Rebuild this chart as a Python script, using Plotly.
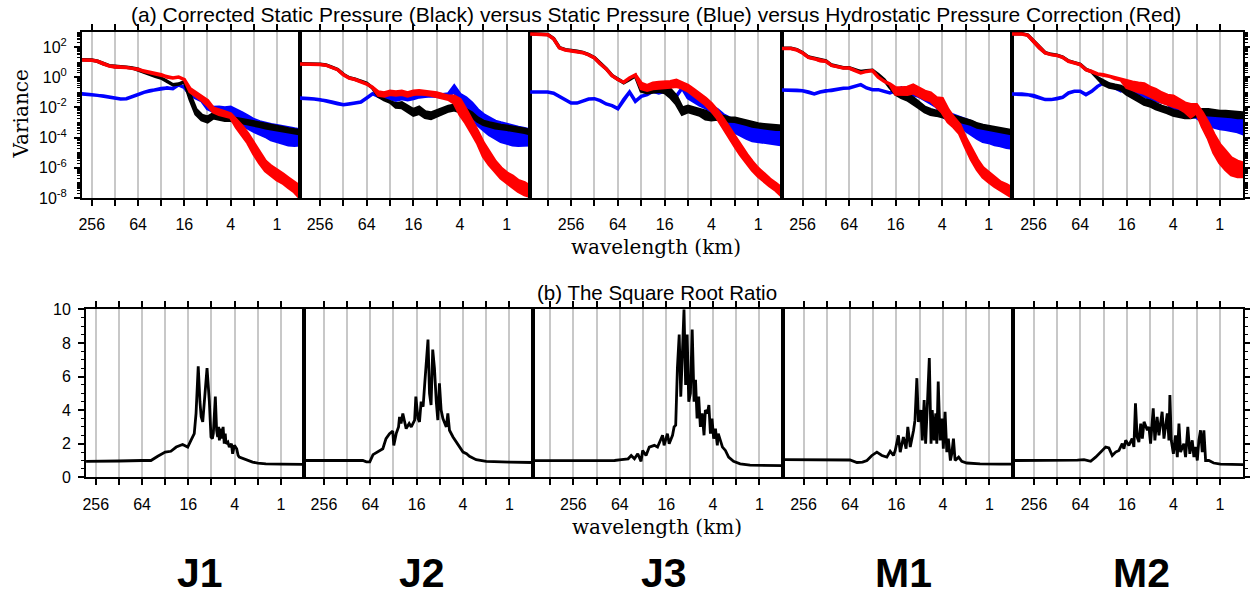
import numpy as np
import plotly.graph_objects as go

# ---------------- data ----------------
# wavelength samples (km) for the variance spectra
WL_J1 = [362, 304, 256, 215, 181, 152, 128, 108, 90.5, 76.1, 64, 53.8, 45.3, 38.1, 32, 26.9, 22.6, 19.0, 16,
         13.5, 11.3, 9.51, 8, 6.73, 5.66, 4.76, 4, 3.36, 2.83, 2.38, 2, 1.68, 1.41, 1.19, 1, 0.84, 0.71, 0.59, 0.5]
WL_J2 = [512, 430, 362, 304, 256, 215, 181, 152, 128, 108, 90.5, 76.1, 64, 53.8, 45.3, 38.1, 32, 26.9, 22.6, 19.0, 16,
         13.5, 11.3, 9.51, 8, 6.73, 5.66, 4.76, 4, 3.36, 2.83, 2.38, 2, 1.68, 1.41, 1.19, 1, 0.84, 0.71, 0.59, 0.5]
WL_J3 = [861, 724, 609, 512, 430, 362, 304, 256, 215, 181, 152, 128, 108, 90.5, 76.1, 64, 53.8, 45.3, 38.1, 32, 26.9,
         22.6, 19.0, 16, 13.5, 11.3, 9.51, 8, 6.73, 5.66, 4.76, 4, 3.36, 2.83, 2.38, 2, 1.68, 1.41, 1.19, 1, 0.84,
         0.71, 0.59, 0.5]
WL_M1 = WL_J2
WL_M2 = WL_J2

# log10(variance), upper edge of each curve; *_BAND = vertical spread (decades) of the noisy tail
J1_BLACK = [1.17, 1.17, 1.14, 1.06, 0.89, 0.77, 0.70, 0.70, 0.66, 0.62, 0.53, 0.35, 0.22, 0.07, -0.05, -0.27, -0.49,
            -0.45, -0.30, -1.15, -2.14, -2.52, -2.65, -2.43, -2.52, -2.60, -2.65, -2.74, -2.81, -2.88, -2.96, -3.05,
            -3.14, -3.20, -3.27, -3.34, -3.43, -3.48, -3.54]
J1_BLACK_BAND = [0.3, 0.3, 0.3, 0.3, 0.25, 0.25, 0.25, 0.2, 0.2, 0.2, 0.2, 0.2, 0.2, 0.2, 0.2, 0.2, 0.2, 0.2, 0.2, 0.2]
J1_BLUE = [-1.09, -1.11, -1.15, -1.20, -1.24, -1.30, -1.37, -1.44, -1.42, -1.26, -1.15, -1.00, -0.89, -0.82, -0.75,
           -0.71, -0.75, -0.50, -0.67, -1.15, -1.37, -1.55, -1.87, -2.00, -1.98, -2.04, -1.99, -2.15, -2.37, -2.59,
           -2.81, -2.96, -3.07, -3.14, -3.21, -3.30, -3.36, -3.43, -3.49]
J1_BLUE_BAND = [0.2, 0.25, 0.3, 0.35, 0.53, 0.66, 0.77, 0.77, 0.77, 0.80, 0.84, 0.99, 1.04, 1.06, 1.11, 1.08, 0.98]
J1_RED = [1.14, 1.14, 1.12, 1.06, 0.89, 0.75, 0.68, 0.68, 0.64, 0.59, 0.53, 0.40, 0.31, 0.26, 0.17, 0.02, -0.05, 0.02,
          -0.15, -0.75, -1.04, -1.26, -1.55, -2.04, -2.20, -2.30, -2.43, -2.81, -3.25, -3.76, -4.36, -5.02, -5.57,
          -5.90, -6.19, -6.41, -6.68, -6.94, -7.23]
J1_RED_BAND = [0.2, 0.2, 0.25, 0.3, 0.25, 0.25, 0.25, 0.22, 0.51, 0.55, 0.60, 0.72, 0.66, 0.62, 0.60, 0.60, 0.59, 0.61,
               0.66, 0.77]

J2_BLACK = [0.90, 0.90, 0.90, 0.88, 0.86, 0.82, 0.68, 0.52, 0.19, -0.03, -0.13, -0.25, -0.40, -0.71, -1.26, -1.48,
            -1.64, -1.77, -1.70, -1.93, -2.15, -1.99, -2.30, -2.37, -2.21, -2.08, -1.93, -1.86, -2.04, -2.15, -2.37,
            -2.70, -2.92, -3.03, -3.14, -3.19, -3.25, -3.30, -3.36, -3.45, -3.54]
J2_BLACK_BAND = [0.2, 0.3, 0.35, 0.35, 0.4, 0.35, 0.35, 0.3, 0.3, 0.3, 0.3, 0.25, 0.25, 0.2, 0.2, 0.2, 0.2, 0.2, 0.2,
                 0.2, 0.2, 0.2, 0.2, 0.2]
J2_BLUE = [-1.37, -1.37, -1.40, -1.44, -1.48, -1.55, -1.64, -1.75, -1.82, -1.77, -1.71, -1.64, -1.37, -1.09, -1.26,
           -1.37, -1.26, -1.37, -1.26, -1.33, -1.26, -1.15, -1.11, -1.07, -1.11, -1.15, -1.11, -0.60, -1.15, -1.37,
           -1.71, -2.15, -2.48, -2.70, -2.92, -3.03, -3.14, -3.25, -3.32, -3.41, -3.49]
J2_BLUE_BAND = [0.15, 0.15, 0.15, 0.15, 0.15, 0.15, 0.15, 0.15, 0.15, 0.15, 0.15, 0.3, 0.78, 0.78, 0.88, 0.99, 0.99,
                1.10, 1.10, 1.22, 1.22, 1.22, 1.19, 1.10, 0.98]
J2_RED = [0.88, 0.88, 0.88, 0.86, 0.84, 0.80, 0.66, 0.50, 0.17, -0.05, -0.15, -0.27, -0.45, -0.67, -0.98, -1.04,
          -0.93, -0.98, -0.93, -1.04, -0.93, -0.89, -0.93, -0.98, -1.04, -1.15, -1.26, -1.26, -1.48, -2.15, -2.81,
          -3.58, -4.36, -5.02, -5.57, -6.01, -6.34, -6.56, -6.85, -7.00, -7.23]
J2_RED_BAND = [0.2, 0.2, 0.2, 0.2, 0.2, 0.2, 0.2, 0.2, 0.2, 0.2, 0.2, 0.2, 0.2, 0.44, 1.0, 0.88, 0.88, 0.78, 0.88,
               0.77, 0.66, 0.67, 0.66, 0.73, 0.71, 0.78, 0.66]

J3_BLACK = [2.89, 2.89, 2.87, 2.84, 2.57, 1.97, 1.83, 1.78, 1.72, 1.65, 1.50, 1.30, 0.92, 0.57, 0.12, -0.13, -0.36,
            -0.15, 0.10, -0.71, -0.82, -0.71, -0.67, -0.71, -0.82, -1.26, -2.04, -1.93, -2.04, -2.15, -2.26, -2.52,
            -2.52, -2.59, -2.70, -2.72, -2.81, -2.92, -3.03, -3.10, -3.14, -3.19, -3.25, -3.25]
J3_BLACK_BAND = [0.2, 0.2, 0.25, 0.25, 0.3, 0.5, 0.5, 0.4, 0.35, 0.35, 0.35, 0.5, 0.3, 0.25, 0.25, 0.2, 0.2, 0.2, 0.2,
                 0.2, 0.2, 0.2, 0.2, 0.2, 0.2]
J3_BLUE = [-0.98, -0.98, -0.98, -0.98, -1.06, -1.26, -1.48, -1.71, -1.71, -1.55, -1.44, -1.42, -1.55, -1.77, -1.88,
           -2.08, -1.48, -0.98, -1.59, -1.26, -1.15, -0.93, -1.04, -0.93, -1.15, -1.26, -0.71, -1.15, -1.37, -1.59,
           -1.71, -1.93, -2.15, -2.48, -2.70, -2.88, -2.96, -3.03, -3.14, -3.19, -3.25, -3.32, -3.36, -3.41]
J3_BLUE_BAND = [0.2, 0.2, 0.25, 0.3, 0.35, 0.4, 0.5, 0.6, 0.75, 0.9, 1.0, 1.05, 1.05, 1.05, 1.05, 1.05, 1.05]
J3_RED = [2.87, 2.87, 2.85, 2.82, 2.55, 1.95, 1.81, 1.76, 1.70, 1.63, 1.48, 1.28, 0.90, 0.55, 0.10, -0.15, -0.33,
          -0.05, 0.15, -0.40, -0.55, -0.40, -0.35, -0.33, -0.30, -0.20, -0.35, -0.55, -0.82, -1.10, -1.40, -1.75,
          -2.20, -2.75, -3.35, -3.95, -4.55, -5.10, -5.60, -6.05, -6.40, -6.75, -7.05, -7.35]
J3_RED_BAND = [0.35, 0.3, 0.35, 0.35, 0.35, 0.35, 0.4, 0.35, 0.35, 0.4, 0.4, 0.4, 0.45, 0.5, 0.55, 0.55, 0.6, 0.6,
               0.6, 0.55, 0.5, 0.5, 0.45, 0.45, 0.5]

M1_BLACK = [1.92, 1.92, 1.92, 1.83, 1.63, 1.34, 1.25, 1.12, 1.08, 0.81, 0.70, 0.63, 0.63, 0.48, 0.38, 0.44, 0.46,
            0.17, -0.16, -0.67, -0.82, -1.04, -1.15, -1.37, -1.71, -1.99, -2.15, -2.26, -2.43, -2.52, -2.65, -2.74,
            -2.81, -2.92, -3.10, -3.19, -3.25, -3.32, -3.41, -3.47, -3.54]
M1_BLACK_BAND = [0.3, 0.3, 0.35, 0.35, 0.3, 0.3, 0.3, 0.25, 0.2, 0.2, 0.2, 0.2, 0.2, 0.2, 0.2, 0.2, 0.2, 0.2, 0.2,
                 0.2, 0.2]
M1_BLUE = [-0.84, -0.84, -0.84, -0.86, -0.89, -0.98, -1.11, -0.98, -0.89, -0.87, -0.78, -0.73, -0.71, -0.60, -0.49,
           -0.71, -0.82, -0.82, -0.93, -1.04, -0.89, -0.71, -0.93, -1.15, -1.26, -1.48, -1.71, -1.93, -2.15, -2.37,
           -2.52, -2.65, -2.81, -2.96, -3.14, -3.25, -3.32, -3.41, -3.47, -3.54, -3.58]
M1_BLUE_BAND = [0.4, 0.45, 0.5, 0.6, 0.7, 0.8, 0.9, 1.0, 1.0, 1.05, 1.05, 1.1, 1.1]
M1_RED = [1.90, 1.90, 1.90, 1.81, 1.61, 1.32, 1.23, 1.10, 1.06, 0.79, 0.68, 0.61, 0.61, 0.44, 0.29, 0.39, 0.44, 0.00,
          -0.27, -0.45, -0.71, -0.71, -0.67, -0.53, -0.71, -0.93, -1.04, -1.37, -1.42, -2.15, -2.70, -3.14, -4.02,
          -4.80, -5.46, -6.01, -6.34, -6.68, -6.94, -7.12, -7.34]
M1_RED_BAND = [0.4, 0.4, 0.45, 0.5, 0.5, 0.5, 0.5, 0.55, 0.9, 0.8, 0.6, 0.6, 0.6, 0.65, 0.65, 0.6, 0.6, 0.55, 0.55,
               0.6, 0.6]

M2_BLACK = [2.89, 2.89, 2.89, 2.80, 2.40, 1.96, 1.63, 1.52, 1.47, 1.34, 1.08, 0.97, 0.86, 0.52, 0.37, -0.04, -0.27,
            -0.45, -0.53, -0.60, -0.82, -1.04, -1.26, -1.48, -1.59, -1.77, -1.93, -2.04, -2.21, -2.30, -2.37, -2.37,
            -2.26, -2.15, -2.15, -2.21, -2.26, -2.26, -2.30, -2.37, -2.37]
M2_BLACK_BAND = [0.2, 0.2, 0.2, 0.2, 0.3, 0.3, 0.3, 0.3, 0.3, 0.3, 0.3, 0.3, 0.3, 0.3, 0.3, 0.3, 0.3, 0.3, 0.3, 0.3,
                 0.3, 0.3, 0.3, 0.3, 0.3]
M2_BLUE = [-1.11, -1.11, -1.11, -1.15, -1.20, -1.37, -1.48, -1.48, -1.42, -1.33, -1.04, -0.93, -0.93, -1.15, -0.93,
           -0.60, -0.38, -0.49, -0.71, -0.89, -0.71, -0.82, -1.04, -1.26, -1.42, -1.55, -1.64, -1.71, -1.86, -1.93,
           -1.99, -2.08, -2.15, -2.43, -2.59, -2.59, -2.65, -2.65, -2.70, -2.70, -2.74]
M2_BLUE_BAND = [0.3, 0.35, 0.4, 0.5, 0.5, 0.5, 0.6, 0.7, 0.75, 0.8, 0.8, 0.9, 1.0]
M2_RED = [2.87, 2.87, 2.87, 2.78, 2.38, 1.94, 1.61, 1.50, 1.45, 1.32, 1.06, 0.95, 0.84, 0.50, 0.39, 0.22, 0.17, 0.07,
          -0.09, -0.16, -0.27, -0.33, -0.40, -0.45, -0.67, -0.82, -1.04, -1.20, -1.26, -1.48, -1.71, -1.82, -1.82,
          -2.37, -3.03, -3.80, -4.47, -4.91, -5.35, -5.57, -5.68]
M2_RED_BAND = [0.4, 0.45, 0.55, 0.6, 0.55, 0.6, 0.6, 0.6, 0.65, 0.55, 0.55, 0.8, 0.5, 0.9, 1.0, 1.2, 1.2, 1.2, 1.1,
               1.0, 0.9]

# square-root ratio (panel b)
R_J1_WL = [342, 256, 128, 64, 49, 40, 32, 27, 23, 19, 16.3, 14.8, 13.4, 12.7, 11.9, 11.3, 10.9, 10.4, 9.7, 9.14, 8.53,
           8.12, 7.8, 7.57, 7.13, 6.86, 6.64, 6.45, 6.32, 6.1, 5.85, 5.65, 5.46, 5.3, 5.18, 4.9, 4.69, 4.4, 4.25,
           4.03, 3.76, 3.6, 3.48, 3.0, 2.34, 2.0, 1.57, 1.0, 0.5]
R_J1 = [0.95, 0.95, 0.97, 1.0, 1.0, 1.25, 1.5, 1.55, 1.8, 1.95, 1.8, 2.2, 2.6, 3.8, 6.6, 4.5, 3.6, 3.3, 5.0, 6.5, 4.5,
        2.4, 2.3, 2.6, 4.8, 2.8, 2.4, 3.0, 2.2, 2.9, 2.3, 3.0, 2.0, 2.6, 2.0, 2.1, 1.8, 2.0, 1.4, 1.9, 1.7, 1.3, 1.2,
        1.1, 0.9, 0.85, 0.8, 0.78, 0.77]
R_J2_WL = [471, 256, 128, 90, 80, 72, 65, 59, 48.6, 44, 40, 36, 32.7, 31.7, 29.5, 27.5, 26.7, 25.5, 24.2, 21.9, 20,
           18.8, 17, 16.4, 15.4, 14.7, 14.0, 13.2, 12.6, 11.4, 10.9, 10.4, 9.9, 9.4, 8.9, 8.5, 8.1, 7.7, 7.3, 7.0,
           6.6, 6.3, 6.0, 5.4, 4.9, 4.5, 4.0, 3.6, 3.3, 2.7, 2.0, 1.0, 0.5]
R_J2 = [1.0, 1.0, 1.02, 1.02, 1.0, 0.92, 0.92, 1.35, 1.6, 1.7, 2.3, 2.6, 2.75, 1.9, 2.6, 3.0, 3.6, 3.2, 3.8, 2.9, 3.2,
        3.0, 3.4, 4.8, 3.5, 3.3, 4.5, 4.2, 5.5, 8.2, 5.0, 4.3, 7.6, 6.5, 4.5, 3.4, 5.6, 4.0, 3.5, 3.3, 3.0, 3.8, 2.8,
        2.4, 2.1, 1.8, 1.5, 1.4, 1.25, 1.05, 0.95, 0.9, 0.88]
R_J3_WL = [820, 512, 256, 128, 75, 61, 50, 45.6, 41.4, 37.5, 34, 32.4, 29.3, 26.6, 22.9, 20.8, 17.9, 17.1, 15.5, 14.7,
           13.3, 12.7, 12.1, 11.5, 10.9, 10.4, 9.9, 9.45, 9.0, 8.6, 8.2, 7.8, 7.4, 7.0, 6.7, 6.4, 6.1, 5.8, 5.5, 5.2,
           5.0, 4.7, 4.5, 4.3, 4.1, 3.9, 3.7, 3.5, 3.4, 3.0, 2.75, 2.5, 2.16, 1.77, 1.32, 0.8, 0.5]
R_J3 = [0.99, 0.99, 0.99, 1.0, 1.0, 1.05, 1.1, 1.3, 1.1, 1.4, 0.95, 1.6, 1.3, 1.8, 1.9, 1.8, 2.5, 1.9, 2.6, 2.0, 2.5,
        3.0, 3.1, 6.5, 8.5, 4.8, 7.3, 10.0, 5.5, 8.5, 4.5, 5.0, 8.8, 4.5, 5.8, 3.5, 4.8, 3.0, 3.8, 2.5, 4.0, 3.8, 4.3,
        2.6, 3.5, 2.3, 2.9, 1.9, 2.6, 1.8, 1.6, 1.2, 0.95, 0.8, 0.72, 0.7, 0.69]
R_M1_WL = [473, 256, 128, 64, 52, 44, 38.6, 33.3, 28.7, 24.7, 21.3, 19.3, 17.5, 16.6, 15.1, 14.3, 13.0, 12.0, 11.4,
           10.6, 9.6, 9.2, 8.7, 8.3, 7.7, 7.4, 7.0, 6.7, 6.4, 6.0, 5.7, 5.5, 5.2, 4.95, 4.8, 4.6, 4.35, 4.1, 3.95,
           3.75, 3.56, 3.4, 3.2, 3.07, 2.92, 2.78, 2.5, 2.28, 1.96, 1.32, 0.73, 0.5]
R_M1 = [1.05, 1.05, 1.04, 1.03, 0.88, 0.9, 1.0, 1.3, 1.5, 1.3, 1.2, 1.55, 1.3, 1.6, 2.5, 1.5, 2.4, 1.7, 3.0, 1.8, 2.8,
        3.4, 5.9, 3.3, 4.0, 2.2, 4.6, 2.0, 4.0, 7.1, 2.0, 4.0, 2.2, 3.8, 2.0, 5.7, 2.2, 3.5, 1.7, 3.9, 1.5, 2.3, 1.0,
        1.4, 2.3, 1.0, 1.2, 0.95, 0.85, 0.8, 0.78, 0.78]
R_M2_WL = [473, 256, 128, 70, 57.6, 47.2, 40.7, 33.4, 30.2, 27.4, 24.8, 22.4, 20.3, 18.4, 17.5, 16.6, 15.1, 13.7, 13.0,
           12.4, 11.8, 11.2, 10.6, 10.1, 9.6, 8.7, 8.3, 7.9, 7.3, 6.95, 6.5, 6.15, 5.6, 5.3, 4.8, 4.57, 4.44, 4.26,
           4.0, 3.75, 3.56, 3.39, 3.23, 2.93, 2.78, 2.6, 2.45, 2.28, 2.17, 2.07, 1.96, 1.87, 1.78, 1.69, 1.61, 1.53,
           1.39, 1.2, 0.98, 0.5]
R_M2 = [1.0, 1.0, 1.0, 1.02, 1.05, 0.95, 1.2, 1.6, 1.8, 1.75, 1.3, 1.5, 1.6, 2.0, 1.7, 2.2, 1.9, 2.3, 1.8, 4.4, 2.4,
        2.1, 3.2, 2.3, 3.3, 2.8, 3.0, 2.0, 4.1, 2.2, 3.6, 2.5, 3.9, 2.3, 3.8, 2.2, 4.9, 2.2, 1.4, 2.5, 1.2, 3.2, 1.5,
        2.0, 1.2, 3.0, 1.4, 2.2, 1.2, 1.8, 1.0, 2.2, 2.8, 1.5, 2.8, 1.0, 1.0, 0.85, 0.78, 0.76]

CASES = ["J1", "J2", "J3", "M1", "M2"]
X_TICKS = [256, 64, 16, 4, 1]
X_LABELS = ["256", "64", "16", "4", "1"]
X_MINOR = [1024, 512, 128, 32, 8, 2, 0.5]
Y_TICKS = [1e-8, 1e-6, 1e-4, 1e-2, 1e0, 1e2]
Y_LABELS = ["10<sup>-8</sup>", "10<sup>-6</sup>", "10<sup>-4</sup>", "10<sup>-2</sup>", "10<sup>0</sup>",
            "10<sup>2</sup>"]
R_TICKS = [0, 2, 4, 6, 8, 10]

# ---------------- layout geometry (pixels) ----------------
W, H = 1250, 598
TOP_PX = [(82, 300), (300, 530), (530, 781.5), (781.5, 1012), (1012, 1243)]
BOT_PX = [(86, 304), (304, 532.5), (532.5, 782.5), (782.5, 1012.5), (1012.5, 1243)]
TOP_Y = (32, 198)
BOT_Y = (309.3, 477.3)
XRANGES = [(2.535, -0.30), (2.667, -0.30), (2.937, -0.30), (2.681, -0.30), (2.687, -0.30)]

SANS = "Liberation Sans, Arial, Helvetica, sans-serif"
SERIF = "DejaVu Serif, serif"

spectra = {
    "J1": (WL_J1, (J1_BLUE, J1_BLUE_BAND), (J1_BLACK, J1_BLACK_BAND), (J1_RED, J1_RED_BAND)),
    "J2": (WL_J2, (J2_BLUE, J2_BLUE_BAND), (J2_BLACK, J2_BLACK_BAND), (J2_RED, J2_RED_BAND)),
    "J3": (WL_J3, (J3_BLUE, J3_BLUE_BAND), (J3_BLACK, J3_BLACK_BAND), (J3_RED, J3_RED_BAND)),
    "M1": (WL_M1, (M1_BLUE, M1_BLUE_BAND), (M1_BLACK, M1_BLACK_BAND), (M1_RED, M1_RED_BAND)),
    "M2": (WL_M2, (M2_BLUE, M2_BLUE_BAND), (M2_BLACK, M2_BLACK_BAND), (M2_RED, M2_RED_BAND)),
}
ratios = {"J1": (R_J1_WL, R_J1), "J2": (R_J2_WL, R_J2), "J3": (R_J3_WL, R_J3),
          "M1": (R_M1_WL, R_M1), "M2": (R_M2_WL, R_M2)}


def ref(i, k):
    return k if i == 1 else f"{k}{i}"


def axkey(i, k):
    return f"{k}axis" if i == 1 else f"{k}axis{i}"


def band_trace(wl, top, band, color, i):
    top = np.asarray(top, dtype=float)
    spread = np.zeros_like(top)
    spread[len(top) - len(band):] = band
    lo = top - spread
    x = list(wl) + list(wl[::-1])
    y = list(10 ** top) + list((10 ** lo)[::-1])
    return go.Scatter(x=x, y=y, mode="lines", fill="toself", fillcolor=color,
                      line=dict(color=color, width=3.5), xaxis=ref(i, "x"), yaxis=ref(i, "y"),
                      hoverinfo="skip", showlegend=False)


fig = go.Figure()
layout = dict(width=W, height=H, margin=dict(l=0, r=0, t=0, b=0, autoexpand=False), paper_bgcolor="white",
              plot_bgcolor="white", showlegend=False)

LOG_MINOR = [m * 10.0 ** k for k in range(-8, 3) for m in range(2, 10)] + [1e-7, 1e-5, 1e-3, 1e-1, 1e1, 1e3]

for p, case in enumerate(CASES):
    wl, blue, black, red = spectra[case]
    it = p + 1
    for (vals, band), col in ((blue, "#0000ff"), (black, "#000000"), (red, "#ff0000")):
        fig.add_trace(band_trace(wl, vals, band, col, it))
    ib = p + 6
    rwl, rv = ratios[case]
    fig.add_trace(go.Scatter(x=rwl, y=rv, mode="lines", line=dict(color="black", width=2.8),
                             xaxis=ref(ib, "x"), yaxis=ref(ib, "y"), hoverinfo="skip", showlegend=False))

    for i, px, ypx in ((it, TOP_PX[p], TOP_Y), (ib, BOT_PX[p], BOT_Y)):
        layout[axkey(i, "x")] = dict(
            type="log", range=list(XRANGES[p]), domain=[px[0] / W, px[1] / W], anchor=ref(i, "y"),
            automargin=False, showline=True, linecolor="black", linewidth=2, mirror="ticks",
            ticks="outside", ticklen=6, tickwidth=2, tickcolor="black", tickmode="array",
            tickvals=X_TICKS, ticktext=X_LABELS,
            showgrid=True, gridcolor="#c8c8c8", gridwidth=1.5, zeroline=False,
            minor=dict(tickmode="array", tickvals=X_MINOR, ticks="outside", ticklen=6, tickwidth=2,
                       tickcolor="black", showgrid=True, gridcolor="#c8c8c8", gridwidth=1.5),
            tickfont=dict(family=SANS, size=16, color="black"), ticklabelstandoff=5)
        ya = dict(domain=[1 - ypx[1] / H, 1 - ypx[0] / H], anchor=ref(i, "x"), automargin=False,
                  showline=True, linecolor="black", linewidth=2, mirror=True, showgrid=False,
                  zeroline=False, tickfont=dict(family=SANS, size=16, color="black"),
                  tickcolor="black", tickwidth=2)
        if i <= 5:
            ya.update(type="log", range=[-8, 3], tickmode="array", tickvals=Y_TICKS, ticktext=Y_LABELS,
                      minor=dict(tickmode="array", tickvals=LOG_MINOR, ticks="outside", ticklen=3,
                                 tickwidth=1, tickcolor="black", showgrid=False))
        else:
            ya.update(range=[0, 10], tickmode="array", tickvals=R_TICKS,
                      minor=dict(dtick=0.5, ticks="outside", ticklen=3, tickwidth=1, tickcolor="black",
                                 showgrid=False))
        if p == 0:
            ya.update(ticks="outside", ticklen=6, showticklabels=True, ticklabelstandoff=4)
        elif p == 4:
            ya.update(side="right", ticks="outside", ticklen=6, showticklabels=False)
        else:
            ya.update(ticks="", showticklabels=False)
            ya["minor"] = dict(ticks="", showgrid=False)
        layout[axkey(i, "y")] = ya

annotations = [
    dict(text="(a) Corrected Static Pressure (Black) versus Static Pressure (Blue) versus Hydrostatic Pressure Correction (Red)",
         x=656 / W, y=1 - 15 / H, font=dict(family=SANS, size=21, color="black")),
    dict(text="(b) The Square Root Ratio", x=657 / W, y=1 - 292.5 / H,
         font=dict(family=SANS, size=20.5, color="black")),
    dict(text="wavelength (km)", x=656 / W, y=1 - 246.5 / H, font=dict(family=SERIF, size=20, color="black")),
    dict(text="wavelength (km)", x=657 / W, y=1 - 526.5 / H, font=dict(family=SERIF, size=20, color="black")),
    dict(text="Variance", x=20 / W, y=1 - 114.5 / H, textangle=-90,
         font=dict(family=SERIF, size=20, color="black")),
]
for a in annotations:
    a.update(yanchor="middle")
for name, xc in zip(CASES, [200, 422, 664, 904, 1141]):
    annotations.append(dict(text=f"<b>{name}</b>", x=xc / W, y=0.0, yanchor="bottom",
                            font=dict(family=SANS, size=41, color="black")))
for a in annotations:
    a.update(xref="paper", yref="paper", showarrow=False, xanchor="center")
layout["annotations"] = annotations

fig.update_layout(**layout)
fig.write_html("out.html", config={"displayModeBar": False},
               post_script="document.body.style.margin='0';document.body.style.padding='0';")
